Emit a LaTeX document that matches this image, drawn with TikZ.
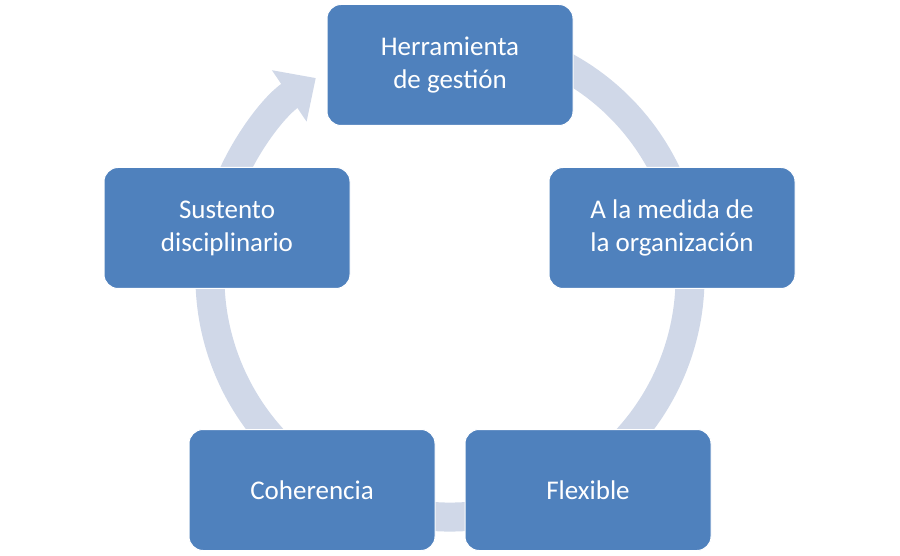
\documentclass[tikz,border=0pt]{standalone}
\usepackage{fontspec}
\setmainfont{Carlito}
\usetikzlibrary{arrows.meta}
\definecolor{boxblue}{HTML}{4F81BD}
\definecolor{ringgray}{HTML}{D0D8E8}
\begin{document}
\begin{tikzpicture}[x=1pt,y=1pt,
  cyclebox/.style={fill=boxblue,draw=white,line width=1pt,rounded corners=14pt,
    minimum width=246pt,minimum height=121pt,text=white,align=center,
    font=\fontsize{27}{33}\selectfont}]
\useasboundingbox (0,0) rectangle (900,555);
\coordinate (c) at (450,278);
% ring behind the boxes
\draw[ringgray,line width=29pt,-{Triangle[width=60pt,length=32pt]}]
  (c) ++(70:240) arc[start angle=70,end angle=-236,radius=240];
% boxes
\node[cyclebox] (gestion) at (450,490) {Herramienta\\de gestión};
\node[cyclebox] (medida) at (672,327) {A la medida de\\la organización};
\node[cyclebox] (flexible) at (588,65) {Flexible};
\node[cyclebox] (coherencia) at (312,65) {Coherencia};
\node[cyclebox] (sustento) at (227,327) {Sustento\\disciplinario};
\end{tikzpicture}
\end{document}
